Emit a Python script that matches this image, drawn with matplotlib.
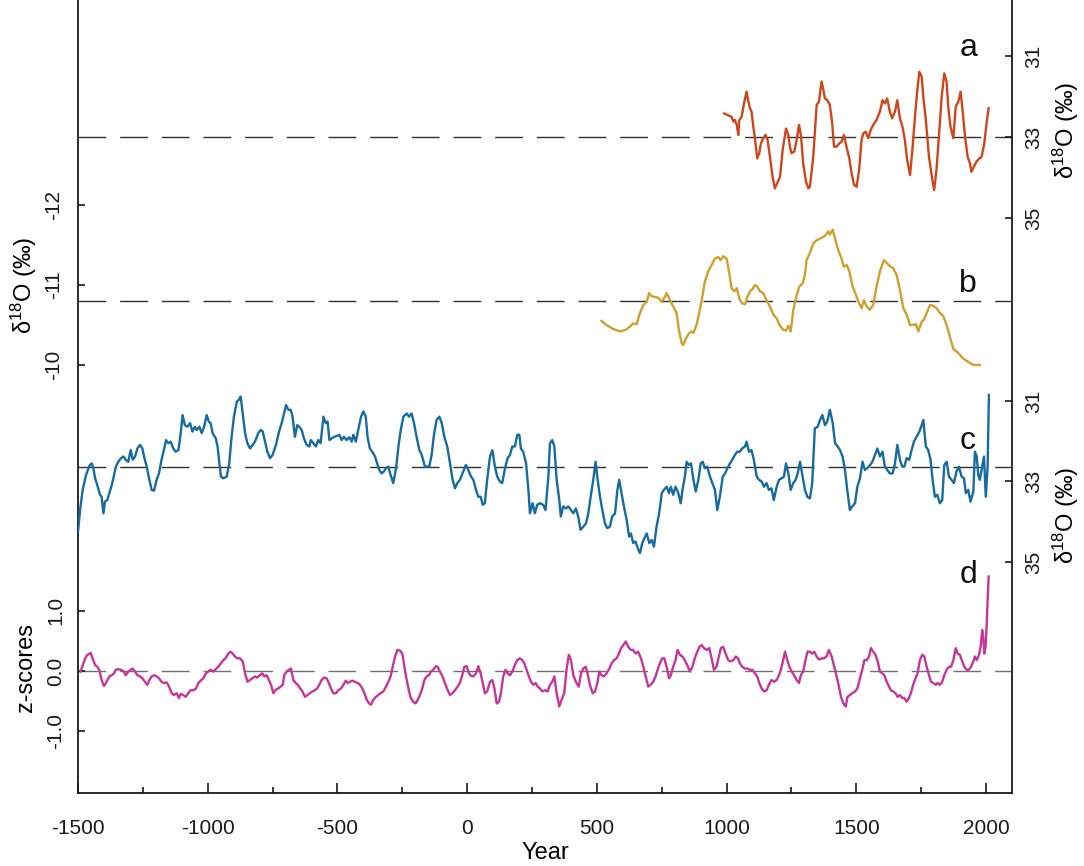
import matplotlib
matplotlib.use('Agg')
import matplotlib.pyplot as plt
from matplotlib.ticker import MultipleLocator, FixedLocator

plt.rcParams['font.family'] = ['Liberation Sans', 'DejaVu Sans']
plt.rcParams['mathtext.fontset'] = 'custom'
plt.rcParams['mathtext.rm'] = 'Liberation Sans'
plt.rcParams['mathtext.it'] = 'Liberation Sans:italic'
plt.rcParams['mathtext.default'] = 'regular'
plt.rcParams['axes.unicode_minus'] = False

# ---------------- data ----------------
a_year = [990, 1019, 1026, 1032, 1039, 1045, 1049, 1058, 1067, 1077,
          1084, 1090, 1096, 1103, 1109, 1118, 1126, 1132, 1141, 1150,
          1158, 1167, 1177, 1186, 1195, 1206, 1216, 1229, 1238, 1244,
          1250, 1261, 1270, 1279, 1287, 1295, 1306, 1315, 1321, 1334,
          1347, 1356, 1360, 1366, 1373, 1379, 1388, 1398, 1407, 1414,
          1424, 1434, 1443, 1452, 1462, 1473, 1482, 1491, 1501, 1511,
          1520, 1527, 1536, 1546, 1555, 1565, 1578, 1591, 1601, 1610,
          1619, 1629, 1638, 1649, 1658, 1668, 1678, 1687, 1696, 1707,
          1716, 1726, 1735, 1743, 1752, 1758, 1768, 1780, 1793, 1800,
          1809, 1820, 1829, 1839, 1848, 1854, 1863, 1874, 1883, 1893,
          1902, 1908, 1919, 1929, 1938, 1944, 1953, 1963, 1974, 1983,
          1993, 2002, 2010]
a_val = [32.42, 32.50, 32.62, 32.58, 32.70, 32.95, 32.58, 32.50, 32.17, 31.88,
         32.13, 32.29, 32.37, 32.75, 33.03, 33.53, 33.40, 33.16, 33.03, 32.95,
         33.07, 33.49, 33.98, 34.27, 34.14, 33.98, 33.32, 32.79, 32.95, 33.24,
         33.40, 33.36, 33.07, 32.70, 32.99, 33.65, 34.10, 34.27, 34.23, 33.49,
         32.21, 32.13, 31.92, 31.63, 31.84, 32.05, 32.09, 32.21, 32.66, 33.24,
         33.24, 33.16, 33.12, 32.95, 33.24, 33.53, 33.90, 34.18, 34.23, 33.81,
         33.07, 32.91, 32.87, 33.03, 32.83, 32.70, 32.58, 32.37, 32.09, 32.17,
         32.05, 32.37, 32.54, 32.37, 32.09, 32.54, 32.75, 33.07, 33.57, 33.94,
         33.32, 32.50, 31.84, 31.39, 31.51, 32.00, 32.58, 33.49, 34.06, 34.31,
         33.81, 32.83, 32.00, 31.43, 31.63, 32.25, 32.75, 33.03, 32.25, 32.13,
         31.88, 32.25, 32.99, 33.49, 33.65, 33.86, 33.73, 33.61, 33.53, 33.49,
         33.16, 32.66, 32.29]

b_year = [518, 537, 563, 589, 612, 627, 640, 653, 666, 679,
          692, 701, 711, 724, 737, 749, 762, 769, 782, 794,
          807, 816, 827, 833, 843, 856, 865, 872, 884, 893,
          904, 916, 929, 942, 955, 968, 977, 987, 1000, 1010,
          1019, 1030, 1039, 1049, 1060, 1071, 1080, 1090, 1100, 1109,
          1118, 1129, 1141, 1154, 1167, 1180, 1193, 1206, 1218, 1229,
          1238, 1247, 1257, 1270, 1280, 1293, 1302, 1308, 1321, 1334,
          1347, 1360, 1373, 1383, 1392, 1398, 1409, 1418, 1430, 1443,
          1452, 1463, 1473, 1486, 1499, 1511, 1520, 1529, 1540, 1552,
          1565, 1578, 1591, 1606, 1619, 1632, 1642, 1655, 1668, 1681,
          1694, 1707, 1719, 1730, 1739, 1752, 1761, 1771, 1784, 1797,
          1809, 1822, 1835, 1848, 1861, 1874, 1893, 1912, 1931, 1951,
          1976]
b_val = [-10.55, -10.50, -10.45, -10.42, -10.44, -10.48, -10.52, -10.51, -10.65, -10.75,
         -10.79, -10.90, -10.86, -10.85, -10.84, -10.79, -10.85, -10.90, -10.81, -10.73,
         -10.65, -10.44, -10.27, -10.25, -10.33, -10.40, -10.42, -10.40, -10.50, -10.63,
         -10.81, -11.04, -11.17, -11.25, -11.33, -11.35, -11.31, -11.36, -11.33, -11.15,
         -10.96, -10.92, -10.96, -10.83, -10.77, -10.76, -10.85, -10.92, -10.95, -11.00,
         -10.98, -10.92, -10.90, -10.81, -10.73, -10.63, -10.58, -10.49, -10.44, -10.43,
         -10.49, -10.42, -10.69, -10.87, -10.98, -11.02, -11.13, -11.31, -11.40, -11.52,
         -11.56, -11.58, -11.60, -11.63, -11.67, -11.63, -11.69, -11.58, -11.44, -11.33,
         -11.23, -11.25, -11.17, -10.98, -10.87, -10.77, -10.71, -10.81, -10.73, -10.69,
         -10.75, -10.98, -11.17, -11.31, -11.27, -11.23, -11.21, -11.13, -10.94, -10.71,
         -10.63, -10.50, -10.50, -10.51, -10.42, -10.54, -10.57, -10.65, -10.75, -10.74,
         -10.71, -10.65, -10.61, -10.50, -10.35, -10.20, -10.15, -10.08, -10.04, -10.00,
         -10.00]

c_year = [-1500, -1492, -1482, -1469, -1456, -1447, -1441, -1434, -1428, -1422,
          -1415, -1409, -1402, -1396, -1387, -1379, -1370, -1361, -1354, -1345,
          -1334, -1325, -1316, -1306, -1297, -1289, -1280, -1271, -1261, -1252,
          -1244, -1235, -1225, -1216, -1207, -1197, -1188, -1178, -1169, -1161,
          -1152, -1143, -1133, -1124, -1113, -1104, -1097, -1088, -1079, -1068,
          -1059, -1050, -1043, -1032, -1023, -1014, -1004, -996, -989, -981,
          -969, -962, -955, -949, -940, -927, -917, -908, -899, -888,
          -880, -873, -865, -856, -847, -837, -827, -818, -805, -796,
          -788, -779, -770, -760, -750, -737, -725, -715, -706, -698,
          -689, -680, -673, -664, -655, -647, -638, -629, -619, -608,
          -603, -593, -583, -574, -565, -554, -545, -538, -531, -522,
          -513, -503, -493, -484, -475, -465, -454, -445, -439, -429,
          -420, -409, -400, -391, -384, -375, -366, -355, -349, -339,
          -330, -321, -313, -304, -295, -285, -274, -265, -256, -246,
          -233, -224, -214, -205, -195, -184, -175, -163, -146, -137,
          -128, -118, -107, -98, -88, -77, -66, -56, -47, -38,
          -28, -15, -5, 4, 15, 24, 34, 43, 52, 60,
          68, 77, 88, 97, 107, 116, 126, 135, 146, 156,
          165, 174, 184, 193, 201, 207, 216, 227, 236, 242,
          252, 261, 270, 280, 293, 302, 313, 319, 328, 336,
          345, 355, 361, 370, 381, 390, 400, 409, 419, 428,
          437, 448, 458, 467, 476, 486, 495, 503, 512, 521,
          531, 540, 550, 559, 570, 579, 586, 595, 604, 615,
          624, 631, 640, 649, 660, 666, 675, 683, 692, 702,
          711, 720, 730, 740, 750, 758, 769, 778, 785, 794,
          803, 814, 823, 830, 839, 846, 855, 863, 872, 881,
          891, 900, 908, 916, 925, 936, 945, 955, 964, 974,
          985, 994, 1003, 1013, 1022, 1032, 1041, 1051, 1060, 1071,
          1077, 1086, 1096, 1105, 1116, 1125, 1135, 1144, 1154, 1163,
          1173, 1182, 1193, 1202, 1212, 1221, 1229, 1238, 1247, 1257,
          1266, 1274, 1283, 1293, 1302, 1311, 1321, 1330, 1340, 1351,
          1360, 1369, 1379, 1388, 1398, 1409, 1418, 1428, 1437, 1447,
          1456, 1465, 1475, 1484, 1495, 1504, 1514, 1524, 1533, 1542,
          1553, 1562, 1572, 1581, 1591, 1601, 1610, 1619, 1629, 1640,
          1649, 1658, 1668, 1677, 1685, 1694, 1704, 1713, 1722, 1732,
          1743, 1752, 1758, 1768, 1777, 1786, 1794, 1803, 1812, 1822,
          1831, 1839, 1848, 1857, 1867, 1876, 1886, 1895, 1906, 1915,
          1922, 1931, 1940, 1951, 1957, 1964, 1970, 1976, 1985, 1992,
          1999, 2006, 2011]
c_val = [34.25, 33.71, 33.21, 32.84, 32.61, 32.55, 32.67, 32.92, 33.04, 33.17,
         33.33, 33.38, 33.79, 33.50, 33.46, 33.29, 33.09, 32.84, 32.63, 32.51,
         32.42, 32.38, 32.46, 32.51, 32.22, 32.46, 32.38, 32.18, 32.09, 32.18,
         32.42, 32.63, 32.96, 33.21, 33.23, 32.96, 32.80, 32.46, 32.22, 31.97,
         32.05, 32.01, 32.18, 32.26, 32.22, 31.80, 31.35, 31.60, 31.64, 31.55,
         31.76, 31.64, 31.72, 31.64, 31.80, 31.64, 31.35, 31.51, 31.55, 31.80,
         31.93, 32.13, 32.55, 32.88, 32.92, 32.88, 32.55, 31.89, 31.39, 31.02,
         30.97, 30.89, 31.31, 31.80, 32.05, 32.18, 32.09, 32.01, 31.80, 31.72,
         31.76, 32.01, 32.26, 32.42, 32.34, 32.09, 31.76, 31.55, 31.31, 31.10,
         31.22, 31.22, 31.39, 31.89, 31.60, 31.64, 31.72, 31.93, 32.09, 32.13,
         31.97, 32.05, 32.13, 31.97, 32.05, 31.39, 31.55, 31.51, 31.97, 31.93,
         31.89, 31.87, 31.84, 31.97, 31.89, 31.97, 31.90, 32.01, 31.84, 32.01,
         31.72, 31.39, 31.26, 31.39, 31.89, 32.18, 32.26, 32.38, 32.51, 32.71,
         32.80, 32.75, 32.67, 32.63, 32.84, 33.04, 32.67, 32.13, 31.72, 31.39,
         31.31, 31.39, 31.31, 31.55, 31.89, 32.22, 32.34, 32.63, 32.63, 32.34,
         31.84, 31.47, 31.39, 31.55, 31.89, 32.13, 32.55, 32.96, 33.17, 33.04,
         32.96, 32.75, 32.59, 32.71, 32.88, 32.96, 33.21, 33.38, 33.38, 33.58,
         33.54, 32.96, 32.38, 32.22, 32.63, 32.88, 33.00, 33.04, 32.67, 32.42,
         32.34, 32.13, 32.13, 31.84, 31.84, 32.18, 32.26, 32.55, 33.21, 33.79,
         33.54, 33.79, 33.58, 33.54, 33.58, 33.71, 32.88, 32.05, 31.97, 32.13,
         32.96, 33.46, 33.87, 33.62, 33.67, 33.62, 33.71, 33.79, 33.67, 33.87,
         34.20, 34.12, 34.04, 33.79, 33.38, 32.96, 32.51, 32.96, 33.38, 33.71,
         34.04, 34.16, 34.12, 33.87, 33.79, 33.21, 32.96, 33.29, 33.62, 33.96,
         34.37, 34.29, 34.53, 34.49, 34.70, 34.78, 34.53, 34.41, 34.29, 34.53,
         34.45, 34.62, 34.12, 33.79, 33.29, 33.21, 33.13, 33.29, 33.13, 33.33,
         33.13, 33.29, 33.54, 33.21, 32.88, 32.51, 32.59, 32.55, 32.96, 33.25,
         32.96, 32.55, 32.51, 32.67, 32.63, 32.88, 33.04, 33.21, 33.71, 33.38,
         32.88, 32.80, 32.67, 32.55, 32.46, 32.34, 32.26, 32.26, 32.18, 32.13,
         32.01, 32.26, 32.22, 32.46, 32.88, 32.96, 33.00, 33.13, 33.04, 33.21,
         33.17, 33.46, 33.13, 32.96, 32.92, 32.88, 32.55, 32.80, 33.21, 33.04,
         32.96, 32.80, 32.51, 32.88, 33.21, 33.38, 33.42, 33.04, 31.68, 31.64,
         31.47, 31.35, 31.60, 31.51, 31.22, 31.55, 32.05, 32.13, 32.22, 32.38,
         32.71, 33.21, 33.71, 33.62, 33.54, 33.13, 32.92, 32.51, 32.71, 32.67,
         32.59, 32.51, 32.34, 32.18, 32.38, 32.26, 32.63, 32.71, 32.80, 32.80,
         32.55, 32.09, 32.46, 32.63, 32.63, 32.42, 32.46, 32.22, 32.01, 31.89,
         31.76, 31.60, 31.47, 32.13, 32.22, 32.46, 32.96, 33.38, 33.33, 33.54,
         33.46, 32.59, 32.51, 32.88, 32.96, 33.04, 32.75, 32.63, 32.88, 32.92,
         33.29, 33.21, 33.50, 33.25, 32.26, 32.38, 32.84, 32.96, 32.63, 32.38,
         33.38, 32.63, 30.85]

d_year = [-1490, -1479, -1469, -1460, -1451, -1444, -1434, -1426, -1418, -1409,
          -1400, -1390, -1379, -1370, -1361, -1354, -1345, -1336, -1325, -1316,
          -1306, -1297, -1289, -1280, -1271, -1261, -1252, -1242, -1233, -1225,
          -1216, -1207, -1197, -1188, -1178, -1169, -1158, -1149, -1139, -1130,
          -1120, -1111, -1104, -1094, -1085, -1075, -1066, -1055, -1045, -1036,
          -1027, -1017, -1007, -998, -989, -978, -969, -959, -949, -940,
          -931, -921, -912, -904, -895, -886, -876, -865, -856, -847,
          -837, -827, -818, -809, -799, -790, -782, -773, -764, -756,
          -747, -737, -728, -719, -711, -705, -696, -687, -679, -670,
          -661, -653, -644, -635, -625, -616, -606, -597, -587, -578,
          -570, -561, -552, -542, -533, -525, -516, -506, -497, -486,
          -477, -468, -461, -452, -443, -432, -422, -413, -404, -396,
          -387, -378, -371, -362, -352, -343, -334, -323, -313, -304,
          -295, -287, -278, -269, -259, -250, -242, -233, -224, -217,
          -208, -199, -191, -182, -173, -165, -156, -147, -140, -131,
          -121, -114, -105, -95, -86, -75, -66, -57, -47, -37,
          -28, -19, -11, -2, 7, 15, 24, 34, 43, 52,
          60, 68, 77, 88, 97, 105, 114, 123, 130, 139,
          148, 156, 165, 174, 184, 193, 203, 212, 220, 229,
          238, 246, 255, 264, 272, 280, 290, 300, 310, 319,
          328, 336, 345, 355, 364, 374, 383, 392, 400, 409,
          419, 430, 439, 448, 457, 464, 473, 484, 493, 502,
          509, 518, 527, 537, 548, 557, 566, 576, 585, 593,
          602, 611, 621, 631, 640, 649, 659, 670, 679, 688,
          698, 707, 717, 726, 734, 743, 752, 760, 769, 778,
          785, 794, 803, 811, 820, 829, 839, 848, 859, 868,
          875, 884, 895, 904, 913, 923, 933, 942, 951, 961,
          970, 978, 987, 996, 1006, 1015, 1026, 1035, 1044, 1051,
          1060, 1071, 1080, 1090, 1099, 1109, 1118, 1126, 1135, 1144,
          1154, 1163, 1173, 1182, 1193, 1202, 1209, 1218, 1225, 1234,
          1242, 1251, 1260, 1270, 1279, 1286, 1295, 1304, 1312, 1321,
          1330, 1338, 1347, 1356, 1366, 1375, 1385, 1394, 1405, 1415,
          1424, 1433, 1441, 1450, 1459, 1466, 1475, 1484, 1495, 1504,
          1514, 1523, 1531, 1540, 1549, 1556, 1565, 1574, 1582, 1591,
          1600, 1608, 1617, 1626, 1633, 1642, 1651, 1659, 1668, 1677,
          1685, 1694, 1703, 1710, 1719, 1728, 1736, 1745, 1754, 1762,
          1771, 1780, 1788, 1797, 1806, 1813, 1822, 1831, 1839, 1848,
          1857, 1865, 1874, 1883, 1890, 1899, 1908, 1916, 1925, 1934,
          1942, 1951, 1957, 1964, 1973, 1979, 1985, 1989, 1993, 1998,
          2002, 2006, 2010]
d_val = [-0.01, 0.13, 0.24, 0.28, 0.30, 0.21, 0.10, 0.07, 0.02, -0.15,
         -0.25, -0.18, -0.09, -0.07, -0.04, 0.02, 0.03, 0.02, 0.00, -0.07,
         -0.01, 0.02, 0.04, -0.01, -0.07, -0.09, -0.12, -0.18, -0.23, -0.15,
         -0.09, -0.07, -0.09, -0.12, -0.18, -0.20, -0.19, -0.26, -0.37, -0.40,
         -0.37, -0.45, -0.38, -0.40, -0.43, -0.37, -0.32, -0.32, -0.29, -0.20,
         -0.16, -0.12, -0.04, -0.01, 0.02, -0.01, 0.03, 0.07, 0.13, 0.18,
         0.21, 0.29, 0.32, 0.29, 0.24, 0.21, 0.21, 0.16, -0.04, -0.18,
         -0.15, -0.12, -0.09, -0.11, -0.07, -0.04, -0.09, -0.07, -0.15, -0.23,
         -0.37, -0.31, -0.29, -0.26, -0.23, -0.07, -0.01, 0.02, 0.04, -0.15,
         -0.20, -0.23, -0.29, -0.34, -0.43, -0.40, -0.37, -0.34, -0.32, -0.29,
         -0.23, -0.15, -0.11, -0.12, -0.20, -0.29, -0.37, -0.37, -0.32, -0.29,
         -0.23, -0.16, -0.20, -0.18, -0.16, -0.18, -0.20, -0.23, -0.29, -0.37,
         -0.48, -0.54, -0.56, -0.48, -0.43, -0.40, -0.37, -0.34, -0.26, -0.18,
         -0.09, 0.07, 0.24, 0.35, 0.34, 0.29, 0.07, -0.15, -0.34, -0.45,
         -0.51, -0.54, -0.48, -0.40, -0.29, -0.15, -0.09, -0.07, -0.01, 0.02,
         0.08, 0.07, -0.01, -0.09, -0.20, -0.32, -0.40, -0.37, -0.32, -0.26,
         -0.20, -0.07, 0.07, 0.08, -0.04, -0.08, -0.09, -0.04, 0.08, -0.04,
         -0.20, -0.37, -0.34, -0.18, -0.15, -0.29, -0.54, -0.51, -0.37, -0.09,
         0.02, -0.04, -0.07, -0.01, 0.10, 0.18, 0.21, 0.18, 0.13, 0.02,
         -0.09, -0.18, -0.23, -0.20, -0.26, -0.29, -0.34, -0.32, -0.34, -0.23,
         -0.18, -0.09, -0.37, -0.59, -0.48, -0.37, 0.02, 0.27, 0.18, -0.07,
         -0.18, -0.26, -0.04, 0.04, 0.07, -0.04, -0.23, -0.37, -0.34, -0.20,
         -0.01, -0.07, -0.09, -0.04, 0.04, 0.13, 0.18, 0.21, 0.29, 0.38,
         0.43, 0.49, 0.40, 0.35, 0.35, 0.29, 0.32, 0.21, 0.07, -0.09,
         -0.26, -0.23, -0.18, -0.09, 0.02, 0.13, 0.21, 0.21, 0.07, -0.12,
         -0.07, 0.07, 0.18, 0.35, 0.27, 0.24, 0.18, 0.10, -0.01, 0.07,
         0.18, 0.29, 0.40, 0.43, 0.38, 0.35, 0.38, 0.21, 0.02, 0.07,
         0.24, 0.38, 0.40, 0.29, 0.18, 0.16, 0.18, 0.24, 0.21, 0.13,
         0.07, 0.04, 0.04, 0.02, 0.02, -0.04, -0.09, -0.20, -0.29, -0.34,
         -0.32, -0.23, -0.15, -0.18, -0.15, -0.07, 0.02, 0.18, 0.32, 0.18,
         0.07, -0.01, -0.07, -0.15, -0.20, -0.07, -0.01, 0.18, 0.32, 0.32,
         0.29, 0.32, 0.24, 0.19, 0.21, 0.21, 0.24, 0.35, 0.24, 0.07,
         -0.09, -0.26, -0.43, -0.54, -0.59, -0.43, -0.40, -0.37, -0.34, -0.29,
         -0.12, 0.02, 0.18, 0.18, 0.24, 0.38, 0.32, 0.27, 0.16, -0.01,
         -0.04, -0.07, -0.18, -0.26, -0.32, -0.34, -0.37, -0.43, -0.40, -0.45,
         -0.45, -0.51, -0.45, -0.37, -0.23, -0.12, -0.04, 0.18, 0.27, 0.24,
         0.07, -0.07, -0.18, -0.20, -0.23, -0.20, -0.23, -0.18, -0.07, 0.02,
         0.07, 0.07, 0.18, 0.38, 0.29, 0.27, 0.16, 0.07, 0.02, 0.02,
         0.07, 0.16, 0.24, 0.18, 0.27, 0.40, 0.68, 0.57, 0.29, 0.40,
         0.74, 1.18, 1.57]

ref_a, ref_b, ref_c, ref_d = 33.0, -10.8, 32.63, 0.0

x_major = [-1500, -1000, -500, 0, 500, 1000, 1500, 2000]
a_ticks = [31, 33, 35]
b_ticks = [-12, -11, -10]
c_ticks = [31, 33, 35]
d_ticks = [-1.0, 0.0, 1.0]
d_ticklabels = ['-1.0', '0.0', '1.0']
panel_labels = ['a', 'b', 'c', 'd']

col_a = '#D0461C'
col_b = '#CFA02C'
col_c = '#166BA0'
col_d = '#C6359A'

# ---------------- figure ----------------
fig = plt.figure(figsize=(10.84, 8.66), dpi=100)
ax_d = fig.add_axes([78 / 1084, 73 / 866, 934 / 1084, 793 / 866])
ax_b = ax_d.twinx()
ax_a = ax_d.twinx()
ax_c = ax_d.twinx()

ax_d.set_xlim(-1500, 2100)
ax_d.set_ylim(-2.027, 11.146)
ax_b.set_ylim(-4.65, -14.5625)
ax_a.set_ylim(49.20, 29.617)
ax_c.set_ylim(40.74, 21.037)

spine_col = '#1a1a1a'
for s in ['left', 'right', 'bottom']:
    ax_d.spines[s].set_linewidth(1.3)
    ax_d.spines[s].set_color(spine_col)
ax_d.spines['top'].set_visible(False)
for ax in (ax_a, ax_b, ax_c):
    for s in ax.spines.values():
        s.set_visible(False)

dash = (0, (20, 10))
ax_a.axhline(ref_a, color='#303030', lw=1.0, ls=dash, zorder=1)
ax_b.axhline(ref_b, color='#303030', lw=1.0, ls=dash, zorder=1)
ax_c.axhline(ref_c, color='#303030', lw=1.0, ls=dash, zorder=1)
ax_d.axhline(ref_d, color='#707070', lw=1.0, ls=dash, zorder=1)

lw = 1.7
ax_a.plot(a_year, a_val, color=col_a, lw=lw, zorder=3)
ax_b.plot(b_year, b_val, color=col_b, lw=lw, zorder=3)
ax_c.plot(c_year, c_val, color=col_c, lw=lw, zorder=3)
ax_d.plot(d_year, d_val, color=col_d, lw=lw, zorder=3)

tick_fs = 15

# x axis
ax_d.xaxis.set_major_locator(FixedLocator(x_major))
ax_d.xaxis.set_minor_locator(MultipleLocator(250))
ax_d.tick_params(axis='x', which='major', direction='in', length=7, width=1.2,
                 pad=19, labelsize=tick_fs, colors=spine_col)
ax_d.tick_params(axis='x', which='minor', direction='in', length=4, width=1.2,
                 colors=spine_col)
ax_d.set_xlabel('Year', fontsize=17)
ax_d.xaxis.set_label_coords(0.5, -0.0755)
ax_d.xaxis.label.set_va('center')

# d (z-scores, left)
ax_d.set_yticks(d_ticks)
ax_d.set_yticklabels(d_ticklabels)
ax_d.tick_params(axis='y', direction='in', length=5, width=1.2, pad=9,
                 labelsize=tick_fs, labelrotation=90, left=True, right=False,
                 colors=spine_col)
ax_d.set_ylabel('z-scores', fontsize=17, va='center', ha='center')
ax_d.yaxis.set_label_coords(-0.0557, 0.158)

# b (left)
ax_b.yaxis.tick_left()
ax_b.yaxis.set_label_position('left')
ax_b.set_yticks(b_ticks)
ax_b.tick_params(axis='y', direction='in', length=5, width=1.2, pad=11,
                 labelsize=tick_fs, labelrotation=90, colors=spine_col)
lbl = 'δ$^{18}$O (‰)'
ax_b.set_ylabel(lbl, fontsize=17, va='center', ha='center')
ax_b.yaxis.set_label_coords(-0.0578, 0.6406)

# a (right)
ax_a.set_yticks(a_ticks)
ax_a.tick_params(axis='y', direction='in', length=5, width=1.2, pad=9,
                 labelsize=tick_fs, labelrotation=90, colors=spine_col)
ax_a.set_ylabel(lbl, fontsize=17, va='center', ha='center', rotation=90)
ax_a.yaxis.set_label_coords(1.0578, 0.836)

# c (right)
ax_c.set_yticks(c_ticks)
ax_c.tick_params(axis='y', direction='in', length=5, width=1.2, pad=9,
                 labelsize=tick_fs, labelrotation=90, colors=spine_col)
ax_c.set_ylabel(lbl, fontsize=17, va='center', ha='center', rotation=90)
ax_c.yaxis.set_label_coords(1.0578, 0.3506)

for axx in (ax_a, ax_b, ax_c, ax_d):
    for t in axx.get_yticklabels():
        t.set_va('center')

# panel letters
for lab, ypos in zip(panel_labels, [0.939, 0.642, 0.444, 0.275]):
    ax_d.text(0.953, ypos, lab, transform=ax_d.transAxes, fontsize=23,
              ha='center', va='center', color='#111111', zorder=5)

fig.savefig('out.png', dpi=100)
